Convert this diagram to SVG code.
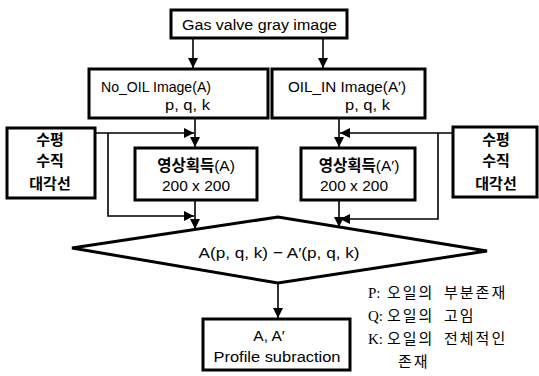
<svg xmlns="http://www.w3.org/2000/svg" width="539" height="376" viewBox="0 0 539 376">
<style>
.box{fill:#fff;stroke:#000;stroke-width:3}
.ln{fill:none;stroke:#000;stroke-width:1.6}
.t{font-family:"Liberation Sans","Noto Sans CJK KR",sans-serif;font-size:15.5px;fill:#000}
.k{font-family:"Noto Sans CJK KR",sans-serif;font-weight:bold;font-size:15px;fill:#000}
.lg{font-family:"Liberation Serif","Noto Sans CJK KR",serif;font-size:15px;fill:#000}
.kw{letter-spacing:2px}
</style>
<defs>
<marker id="ah" viewBox="0 0 10 10" refX="10" refY="5" markerWidth="10" markerHeight="10" markerUnits="userSpaceOnUse" orient="auto">
<path d="M0,0 L10,5 L0,10 Z" fill="#000"/>
</marker>
</defs>
<rect width="539" height="376" fill="#fff"/>
<g id="connectors">
<path class="ln" d="M193,38 V68" marker-end="url(#ah)"/>
<path class="ln" d="M323,38 V68" marker-end="url(#ah)"/>
<path class="ln" d="M195,118 V147" marker-end="url(#ah)"/>
<path class="ln" d="M339,118 V147" marker-end="url(#ah)"/>
<path class="ln" d="M95,133 H194" marker-end="url(#ah)"/>
<path class="ln" d="M108,133 V216 H194" marker-end="url(#ah)"/>
<path class="ln" d="M195,200 V229" marker-end="url(#ah)"/>
<path class="ln" d="M453,133 H340" marker-end="url(#ah)"/>
<path class="ln" d="M438,133 V219 H340" marker-end="url(#ah)"/>
<path class="ln" d="M339,200 V227" marker-end="url(#ah)"/>
<path class="ln" d="M278,283 V318" marker-end="url(#ah)"/>
</g>
<g id="gas">
<rect class="box" x="171" y="10" width="176" height="28"/>
<text class="t" x="182" y="30" textLength="155" lengthAdjust="spacingAndGlyphs">Gas valve gray image</text>
</g>
<g id="nooil">
<rect class="box" x="89" y="69" width="179" height="49"/>
<text class="t" x="101" y="92" textLength="110" lengthAdjust="spacingAndGlyphs">No_OIL Image(A)</text>
<text class="t" x="165" y="110" textLength="45" lengthAdjust="spacingAndGlyphs">p, q, k</text>
</g>
<g id="oilin">
<rect class="box" x="272" y="69" width="153" height="49"/>
<text class="t" x="288" y="92" textLength="118" lengthAdjust="spacingAndGlyphs">OIL_IN Image(A′)</text>
<text class="t" x="345" y="110" textLength="45" lengthAdjust="spacingAndGlyphs">p, q, k</text>
</g>
<g id="leftdir">
<rect class="box" x="7" y="128" width="88" height="70"/>
<text class="k" x="50" y="145" text-anchor="middle">수평</text>
<text class="k" x="50" y="166" text-anchor="middle">수직</text>
<text class="k" x="50" y="189" text-anchor="middle">대각선</text>
</g>
<g id="rightdir">
<rect class="box" x="453" y="127" width="84" height="70"/>
<text class="k" x="496" y="145" text-anchor="middle">수평</text>
<text class="k" x="496" y="166" text-anchor="middle">수직</text>
<text class="k" x="496" y="189" text-anchor="middle">대각선</text>
</g>
<g id="acqA">
<rect class="box" x="135" y="148" width="122" height="52"/>
<text class="t" x="196" y="171" text-anchor="middle" font-size="16"><tspan font-weight="bold">영상획득</tspan>(A)</text>
<text class="t" x="196" y="191" text-anchor="middle">200 x 200</text>
</g>
<g id="acqA2">
<rect class="box" x="301" y="148" width="114" height="52"/>
<text class="t" x="359" y="171" text-anchor="middle" font-size="16"><tspan font-weight="bold">영상획득</tspan>(A′)</text>
<text class="t" x="354" y="191" text-anchor="middle">200 x 200</text>
</g>
<g id="diff">
<polygon class="box" points="72,248 278,217 487,251 278,283"/>
<text class="t" x="279" y="258" text-anchor="middle" textLength="161" lengthAdjust="spacingAndGlyphs">A(p, q, k) − A′(p, q, k)</text>
</g>
<g id="result">
<rect class="box" x="203" y="319" width="147" height="51"/>
<text class="t" x="269" y="341" text-anchor="middle">A, A′</text>
<text class="t" x="277" y="362" text-anchor="middle" textLength="127" lengthAdjust="spacingAndGlyphs">Profile  subraction</text>
</g>
<g id="legend">
<text class="lg" x="368" y="298">P:<tspan class="kw" x="387">오일의</tspan><tspan class="kw" x="444">부분존재</tspan></text>
<text class="lg" x="368" y="321">Q:<tspan class="kw" x="387">오일의</tspan><tspan class="kw" x="444">고임</tspan></text>
<text class="lg" x="368" y="344">K:<tspan class="kw" x="387">오일의</tspan><tspan class="kw" x="444">전체적인</tspan></text>
<text class="lg kw" x="398" y="367">존재</text>
</g>
</svg>
